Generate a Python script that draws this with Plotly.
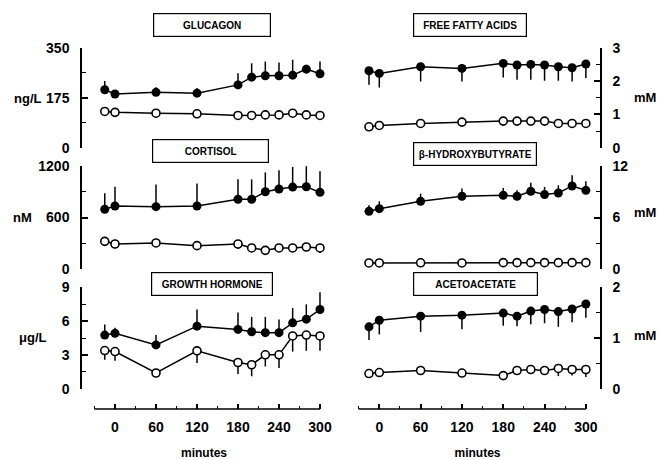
import plotly.graph_objects as go

W, H = 657, 460

# ---------------- data ----------------
minutes = [-15, 0, 60, 120, 180, 200, 220, 240, 260, 280, 300]

glucagon_fast = [203, 188, 194, 191, 220, 247, 252, 252, 254, 275, 259]
glucagon_fast_sd = [31, 8, 18, 18, 41, 49, 50, 46, 54, 15, 43]
glucagon_ctrl = [127, 124, 121, 119, 113, 113, 115, 115, 121, 115, 113]
glucagon_ctrl_sd = [0, 0, 0, 0, 0, 0, 0, 0, 0, 0, 0]

cortisol_fast = [697, 735, 727, 735, 813, 813, 901, 933, 956, 960, 894]
cortisol_fast_sd = [186, 225, 260, 264, 233, 233, 226, 221, 236, 240, 248]
cortisol_ctrl = [321, 290, 302, 271, 290, 244, 216, 244, 244, 255, 244]
cortisol_ctrl_sd = [0, 0, 0, 46, 58, 30, 0, 30, 40, 30, 58]

gh_fast = [4.76, 4.91, 3.89, 5.55, 5.26, 5.05, 4.97, 4.97, 5.84, 6.17, 7.02]
gh_fast_sd = [0.94, 0.5, 0.87, 1.47, 1.49, 1.32, 1.4, 1.17, 1.32, 1.31, 1.54]
gh_ctrl = [3.39, 3.30, 1.40, 3.36, 2.33, 2.13, 3.01, 3.01, 4.68, 4.76, 4.68]
gh_ctrl_sd = [0.82, 0.82, 0.0, 1.08, 1.01, 1.02, 1.03, 1.17, 1.38, 1.4, 1.32]

ffa_fast = [2.31, 2.23, 2.43, 2.38, 2.53, 2.48, 2.50, 2.48, 2.43, 2.40, 2.51]
ffa_fast_sd = [0.42, 0.42, 0.44, 0.39, 0.42, 0.44, 0.46, 0.47, 0.42, 0.41, 0.42]
ffa_ctrl = [0.63, 0.67, 0.73, 0.77, 0.80, 0.80, 0.80, 0.80, 0.73, 0.73, 0.73]
ffa_ctrl_sd = [0, 0, 0, 0, 0, 0, 0, 0, 0, 0, 0]

bhb_fast = [6.72, 7.03, 7.89, 8.48, 8.59, 8.48, 9.06, 8.68, 8.87, 9.69, 9.18]
bhb_fast_sd = [0.7, 0.86, 0.9, 0.9, 0.86, 0.7, 1.0, 0.9, 0.9, 1.25, 1.06]
bhb_ctrl = [0.68, 0.68, 0.70, 0.68, 0.72, 0.72, 0.72, 0.72, 0.72, 0.72, 0.72]
bhb_ctrl_sd = [0, 0, 0, 0, 0, 0, 0, 0, 0, 0, 0]

acac_fast = [1.22, 1.35, 1.43, 1.45, 1.49, 1.43, 1.53, 1.56, 1.52, 1.57, 1.67]
acac_fast_sd = [0.26, 0.28, 0.31, 0.28, 0.25, 0.2, 0.26, 0.27, 0.3, 0.26, 0.27]
acac_ctrl = [0.30, 0.32, 0.36, 0.31, 0.26, 0.36, 0.38, 0.36, 0.40, 0.38, 0.38]
acac_ctrl_sd = [0, 0, 0, 0, 0.03, 0.05, 0.06, 0.08, 0.15, 0.12, 0.15]

x_ticks = [0, 60, 120, 180, 240, 300]

panels = [
    dict(title="GLUCAGON", unit="ng/L", fast=glucagon_fast, fsd=glucagon_fast_sd, fdir="up",
         ctrl=glucagon_ctrl, csd=glucagon_ctrl_sd, yr=[0, 350], yt=[0, 175, 350], mn=87.5),
    dict(title="CORTISOL", unit="nM", fast=cortisol_fast, fsd=cortisol_fast_sd, fdir="up",
         ctrl=cortisol_ctrl, csd=cortisol_ctrl_sd, yr=[0, 1200], yt=[0, 600, 1200], mn=300),
    dict(title="GROWTH HORMONE", unit="μg/L", fast=gh_fast, fsd=gh_fast_sd, fdir="up",
         ctrl=gh_ctrl, csd=gh_ctrl_sd, yr=[0, 9], yt=[0, 3, 6, 9], mn=1.5),
    dict(title="FREE FATTY ACIDS", unit="mM", fast=ffa_fast, fsd=ffa_fast_sd, fdir="down",
         ctrl=ffa_ctrl, csd=ffa_ctrl_sd, yr=[0, 3], yt=[0, 1, 2, 3], mn=0.5),
    dict(title="β-HYDROXYBUTYRATE", unit="mM", fast=bhb_fast, fsd=bhb_fast_sd, fdir="up",
         ctrl=bhb_ctrl, csd=bhb_ctrl_sd, yr=[0, 12], yt=[0, 6, 12], mn=3),
    dict(title="ACETOACETATE", unit="mM", fast=acac_fast, fsd=acac_fast_sd, fdir="down",
         ctrl=acac_ctrl, csd=acac_ctrl_sd, yr=[0, 2], yt=[0, 1, 2], mn=0.5),
]

# ---------------- layout geometry (page pixels) ----------------
FONT = "Liberation Sans"
left_dom_px = (82, 326)
left_range = [-48.3, 308.8]
right_dom_px = (355, 600)
right_range = [-35.3, 320.5]
rows_px = [(47.5, 148), (166, 269), (287, 389)]
xaxis_y_px = 409

title_boxes = [  # cx, cy, w, h
    (212, 25, 118, 24), (210, 151, 117, 24), (212, 284, 122, 24),
    (470, 25.5, 114, 24), (475, 153.5, 124, 24), (475.5, 284, 125, 24),
]
unit_pos = [(27, 98), (22, 218), (33, 337), (645, 97), (645, 212), (645, 335)]


def fx(px):
    return px / W


def fy(py):
    return 1 - py / H


fig = go.Figure()
layout = dict(
    width=W, height=H, margin=dict(l=0, r=0, t=0, b=0, autoexpand=False),
    paper_bgcolor="white", plot_bgcolor="white", showlegend=False,
    font=dict(family=FONT, size=13, color="black", weight="bold"),
)
annotations = []
shapes = []

for i, p in enumerate(panels):
    n = i + 1
    xa = "x" if n == 1 else f"x{n}"
    ya = "y" if n == 1 else f"y{n}"
    col = 0 if i < 3 else 1
    row = i % 3
    dom_px = left_dom_px if col == 0 else right_dom_px
    xr = left_range if col == 0 else right_range
    r0, r1 = rows_px[row]

    fig.add_trace(go.Scatter(
        x=minutes, y=p["ctrl"], xaxis=xa, yaxis=ya, mode="lines+markers",
        line=dict(color="black", width=1.5),
        marker=dict(symbol="circle", size=8, color="white", line=dict(color="black", width=1.6)),
        error_y=dict(type="data", symmetric=False, array=[0] * len(minutes), arrayminus=p["csd"],
                     color="black", thickness=1.5, width=0),
        cliponaxis=False,
    ))
    if p["fdir"] == "up":
        plus, minus = p["fsd"], [0] * len(minutes)
    else:
        plus, minus = [0] * len(minutes), p["fsd"]
    fig.add_trace(go.Scatter(
        x=minutes, y=p["fast"], xaxis=xa, yaxis=ya, mode="lines+markers",
        line=dict(color="black", width=1.5),
        marker=dict(symbol="circle", size=9, color="black"),
        error_y=dict(type="data", symmetric=False, array=plus, arrayminus=minus,
                     color="black", thickness=1.5, width=0),
        cliponaxis=False,
    ))

    xkey = "xaxis" if n == 1 else f"xaxis{n}"
    ykey = "yaxis" if n == 1 else f"yaxis{n}"
    if row == 2:
        layout[xkey] = dict(
            domain=[fx(dom_px[0]), fx(dom_px[1])], range=xr, anchor="free",
            position=fy(xaxis_y_px), automargin=False,
            showline=False, showgrid=False, zeroline=False,
            tickmode="array", tickvals=x_ticks, ticks="inside", ticklen=5, tickwidth=1.5,
            tickcolor="black", ticklabelstandoff=8,
            tickfont=dict(family=FONT, size=14, color="black", weight="bold"),
            minor=dict(tickmode="array", tickvals=[-30, 30, 90, 150, 210, 270],
                       ticks="inside", ticklen=3, tickwidth=1.2, tickcolor="black", showgrid=False),
            title=dict(text="minutes", standoff=16,
                       font=dict(family=FONT, size=12, color="black", weight="bold")),
        )
        shapes.append(dict(type="line", xref=xa, yref="paper", x0=-30, x1=300,
                           y0=fy(xaxis_y_px), y1=fy(xaxis_y_px),
                           line=dict(color="black", width=1.5)))
    else:
        layout[xkey] = dict(domain=[fx(dom_px[0]), fx(dom_px[1])], range=xr,
                            visible=False, anchor=ya, automargin=False)
    yr = p["yr"]
    span = yr[1] - yr[0]
    layout[ykey] = dict(
        domain=[fy(r1), fy(r0)], range=[yr[0] - span * 0.002, yr[1] + span * 0.002], anchor=xa,
        side="left" if col == 0 else "right", automargin=False,
        showline=True, linecolor="black", linewidth=1.5, showgrid=False, zeroline=False,
        tickmode="array", tickvals=p["yt"], ticks="inside", ticklen=6, tickwidth=1.5,
        tickcolor="black", ticklabelstandoff=8,
        tickfont=dict(family=FONT, size=14, color="black", weight="bold"),
        minor=dict(tickmode="linear", tick0=0, dtick=p["mn"], ticks="inside", ticklen=4,
                   tickwidth=1.2, tickcolor="black", showgrid=False),
    )

    cx, cy, bw, bh = title_boxes[i]
    annotations.append(dict(
        text=p["title"], xref="paper", yref="paper", x=fx(cx), y=fy(cy),
        xanchor="center", yanchor="middle", showarrow=False,
        width=bw - 2, height=bh - 2, borderpad=0, bordercolor="black", borderwidth=1.2,
        bgcolor="white", font=dict(family=FONT, size=10, color="black", weight="bold"),
    ))
    ux, uy = unit_pos[i]
    annotations.append(dict(
        text=p["unit"], xref="paper", yref="paper", x=fx(ux), y=fy(uy),
        xanchor="center", yanchor="middle", showarrow=False,
        font=dict(family=FONT, size=13, color="black", weight="bold"),
    ))

layout["annotations"] = annotations
layout["shapes"] = shapes
fig.update_layout(**layout)

# remove the default 8px page margin so the 657x460 figure fills the window exactly
page_css = ("document.body.style.margin='0';"
            "document.body.style.overflow='hidden';"
            "document.documentElement.style.overflow='hidden';")
fig.write_html("out.html", post_script=page_css, config=dict(displayModeBar=False))
